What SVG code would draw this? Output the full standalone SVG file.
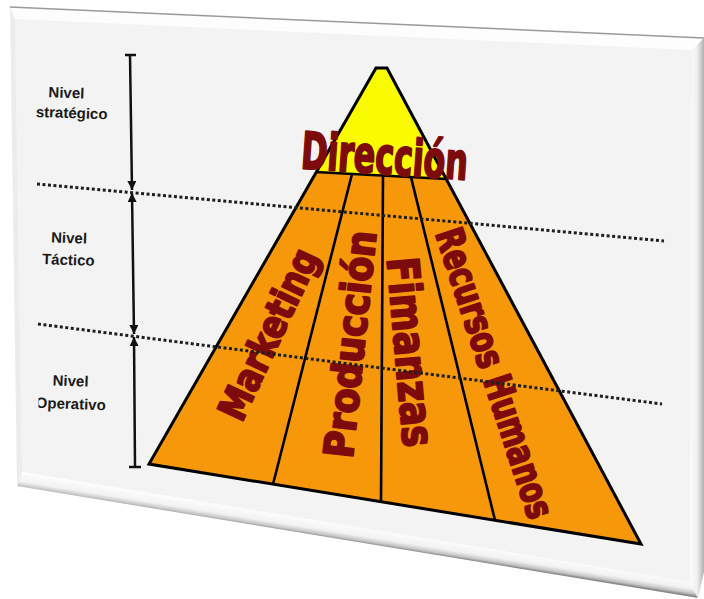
<svg xmlns="http://www.w3.org/2000/svg" width="704" height="599" viewBox="0 0 704 599">
<defs>
<style>
.lbl{font-family:'Liberation Sans',Arial,sans-serif;font-weight:bold;font-size:15px;fill:#1a1a1a;text-anchor:middle}
.big{font-family:'DejaVu Sans Condensed','DejaVu Sans',sans-serif;font-stretch:condensed;font-weight:bold;fill:#7e0b0b;stroke:#7e0b0b;stroke-width:2;stroke-linejoin:round;text-anchor:middle}
.dot{fill:none;stroke:#1e1e1e;stroke-width:3;stroke-dasharray:3 2.5}
.edge{fill:none;stroke:#000;stroke-width:3;stroke-linejoin:miter}
.div{fill:none;stroke:#000;stroke-width:2.6}
.vline{fill:none;stroke:#111;stroke-width:2.5}
</style>
<marker id="ah" viewBox="0 0 10 10" refX="10" refY="5" markerUnits="userSpaceOnUse" markerWidth="9" markerHeight="9" orient="auto-start-reverse">
<path d="M0,0 L10,5 L0,10 z" fill="#111"/>
</marker>
<linearGradient id="gb" gradientUnits="userSpaceOnUse" x1="352" y1="526" x2="349.6" y2="541">
<stop offset="0" stop-color="#fcfcfc"/>
<stop offset="0.55" stop-color="#f2f2f2"/>
<stop offset="0.85" stop-color="#c4c4c4"/>
<stop offset="1" stop-color="#8a8a8a"/>
</linearGradient>
<linearGradient id="gr" gradientUnits="userSpaceOnUse" x1="690" y1="0" x2="704" y2="0">
<stop offset="0" stop-color="#fbfbfb"/>
<stop offset="0.5" stop-color="#f0f0f0"/>
<stop offset="1" stop-color="#b0b0b0"/>
</linearGradient>
<clipPath id="clipOp"><rect x="38.5" y="355" width="100" height="70"/></clipPath>
</defs>
<rect x="0" y="0" width="704" height="599" fill="#ffffff"/>
<g id="slide">
<polygon points="10,7 704,38 704,572 698,598 17,486" fill="#fdfdfd"/>
<polygon points="15,19 692,50 690,582 22,472" fill="#f3f3f3"/>
<polygon points="22,472 690,582 698,598 17,486" fill="url(#gb)"/>
<polygon points="692,50 704,38 704,572 698,598 690,582" fill="url(#gr)"/>
<polygon points="10,7 15,19 22,472 17,486" fill="#ececec"/>
<line x1="10" y1="7" x2="704" y2="38" stroke="#9a9a9a" stroke-width="1.5"/>
</g>
<g id="pyramid">
<polygon points="315.6,172 447,179 641,544 149,464" fill="#f7980b"/>
<polygon points="376,68 387,68 447,179 315.6,172" fill="#fafa00"/>
<line class="div" x1="315.6" y1="172" x2="447" y2="179"/>
<line class="div" x1="352" y1="174" x2="273" y2="484.2"/>
<line class="div" x1="383" y1="175.6" x2="381" y2="501.7"/>
<line class="div" x1="411" y1="177.1" x2="495" y2="520.3"/>
<polygon class="edge" points="376,68 387,68 641,544 149,464"/>
</g>
<g id="node-direccion">
<text class="big" font-size="51" x="383.5" y="174" textLength="167" lengthAdjust="spacingAndGlyphs" transform="rotate(4 383.5 174)">Dirección</text>
</g>
<g id="node-marketing" transform="translate(268 334) rotate(-65)">
<text class="big" font-size="39" x="0" y="14" textLength="184" lengthAdjust="spacingAndGlyphs">Marketing</text>
</g>
<g id="node-produccion" transform="translate(350 344) rotate(-84)">
<text class="big" font-size="41" x="0" y="14.5" textLength="228" lengthAdjust="spacingAndGlyphs">Producción</text>
</g>
<g id="node-finanzas" transform="translate(411 352) rotate(85)">
<text class="big" font-size="44" x="0" y="16" textLength="190" lengthAdjust="spacingAndGlyphs">Fimanzas</text>
</g>
<g id="node-rrhh" transform="translate(495 373) rotate(71.9)">
<text class="big" font-size="38" x="0" y="13.5" textLength="303" lengthAdjust="spacingAndGlyphs">Recursos Humanos</text>
</g>
<g id="labels">
<g id="label-estrategico" transform="rotate(2 68 105)">
<text class="lbl" x="66" y="98">Nivel</text>
<text class="lbl" x="72" y="118">stratégico</text>
</g>
<g id="label-tactico" transform="rotate(2 68 255)">
<text class="lbl" x="68.5" y="243">Nivel</text>
<text class="lbl" x="68.5" y="265">Táctico</text>
</g>
<g id="label-operativo" clip-path="url(#clipOp)">
<g transform="rotate(2 70 398)">
<text class="lbl" x="70" y="386">Nivel</text>
<text class="lbl" x="71" y="409">Operativo</text>
</g>
</g>
</g>
<g id="connectors">
<line class="vline" x1="125" y1="55" x2="136" y2="55"/>
<line class="vline" x1="130" y1="55" x2="132" y2="190" marker-end="url(#ah)"/>
<line class="vline" x1="132" y1="193" x2="134" y2="334" marker-start="url(#ah)" marker-end="url(#ah)"/>
<line class="vline" x1="135" y1="467" x2="134" y2="337" marker-end="url(#ah)"/>
<line class="vline" x1="129" y1="467" x2="141" y2="467"/>
<line class="dot" x1="37" y1="184" x2="664" y2="241"/>
<line class="dot" x1="38" y1="324" x2="662" y2="404"/>
</g>
</svg>
